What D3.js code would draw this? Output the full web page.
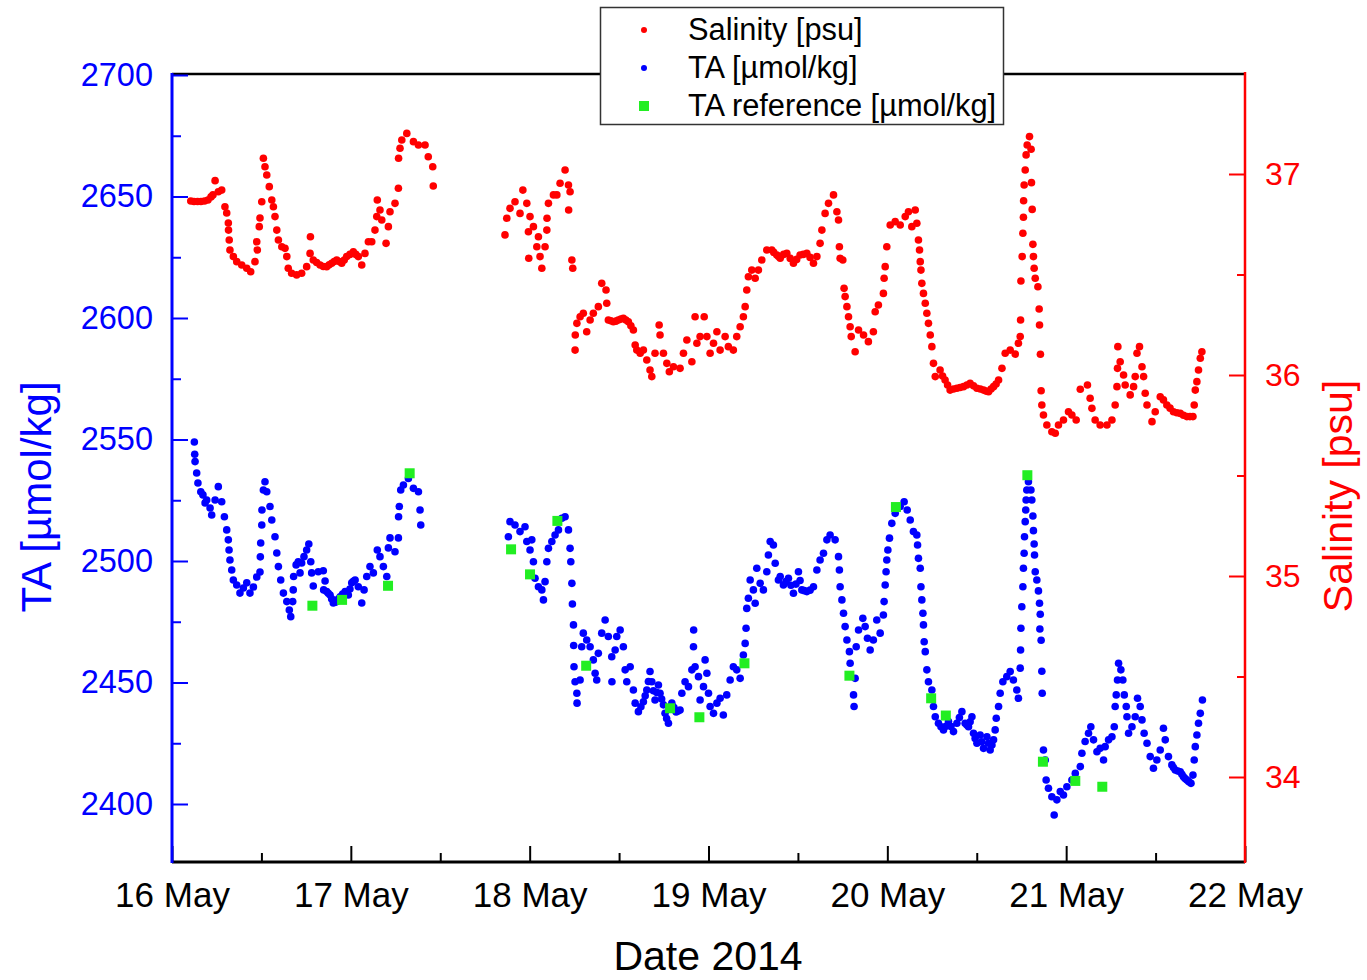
<!DOCTYPE html>
<html>
<head>
<meta charset="utf-8">
<script src="https://cdn.jsdelivr.net/npm/d3@7/dist/d3.min.js"></script>
<style>
  body { margin: 0; background: #fff; }
  svg { display: block; font-family: "Liberation Sans", Arial, sans-serif; }
</style>
</head>
<body>
<div id="chart"></div>
<script>
// [day of May 2014, TA µmol/kg]
var taData = [
  [16.125,2549.0],[16.127,2543.9],[16.129,2540.9],[16.138,2536.2],[16.145,2532.1],[16.161,2528.5],[16.173,2527.2],
  [16.185,2523.9],[16.194,2525.1],[16.213,2521.8],[16.222,2518.9],[16.241,2525.1],[16.259,2530.6],[16.278,2524.4],
  [16.293,2518.2],[16.306,2512.8],[16.315,2508.7],[16.319,2504.5],[16.324,2500.4],[16.334,2496.3],[16.343,2492.2],
  [16.362,2490.1],[16.380,2486.8],[16.399,2488.9],[16.418,2491.0],[16.436,2486.8],[16.455,2489.3],[16.474,2493.4],
  [16.492,2495.5],[16.494,2501.7],[16.496,2507.4],[16.502,2514.8],[16.503,2521.0],[16.511,2529.2],[16.520,2532.6],
  [16.530,2528.5],[16.548,2522.4],[16.558,2516.9],[16.576,2510.0],[16.586,2503.3],[16.595,2497.7],[16.608,2492.2],
  [16.623,2486.8],[16.642,2483.3],[16.656,2479.8],[16.664,2477.1],[16.675,2483.3],[16.678,2488.1],[16.680,2493.6],
  [16.694,2498.4],[16.706,2499.7],[16.716,2495.1],[16.725,2499.2],[16.738,2501.8],[16.753,2504.5],[16.765,2507.0],
  [16.776,2499.7],[16.781,2495.1],[16.790,2489.7],[16.818,2495.6],[16.846,2496.0],[16.848,2488.1],[16.865,2487.4],
  [16.884,2486.0],[16.902,2482.7],[16.921,2483.3],[16.940,2485.3],[16.968,2487.4],[16.986,2486.0],[17.005,2491.0],
  [17.024,2492.2],[17.042,2489.4],[17.061,2482.7],[17.074,2488.1],[17.089,2493.6],[17.107,2497.7],[17.126,2495.1],
  [17.148,2504.5],[17.163,2501.8],[17.182,2497.7],[17.201,2493.6],[17.210,2505.4],[17.219,2509.5],[17.247,2503.8],
  [17.266,2509.5],[17.267,2518.2],[17.271,2522.4],[17.279,2529.2],[17.294,2531.3],[17.322,2534.0],[17.350,2529.9],
  [17.378,2528.5],[17.387,2521.0],[17.391,2514.8],
  [16.856,2491.8],[16.874,2486.7],[16.893,2484.4],[16.912,2483.0],[16.930,2484.3],[16.954,2486.4],[16.977,2486.7],
  [16.995,2488.5],[17.014,2491.6],
  [17.881,2510.0],[17.890,2516.2],[17.918,2514.8],[17.946,2512.1],[17.974,2514.1],[17.984,2508.0],[18.002,2504.5],
  [18.012,2508.7],[18.021,2499.7],[18.030,2492.9],[18.049,2489.4],[18.068,2488.1],[18.077,2484.0],[18.086,2491.5],
  [18.096,2499.7],[18.105,2505.2],[18.124,2508.0],[18.142,2510.7],[18.161,2512.8],[18.180,2517.6],[18.198,2518.2],
  [18.217,2512.8],[18.226,2505.2],[18.230,2499.7],[18.236,2490.8],[18.239,2482.3],[18.245,2473.7],[18.246,2465.2],
  [18.248,2456.5],[18.254,2450.3],[18.264,2445.6],[18.265,2441.5],[18.282,2451.0],[18.291,2464.7],[18.300,2470.3],
  [18.319,2467.5],[18.338,2464.7],[18.356,2459.3],[18.366,2453.8],[18.375,2451.0],[18.384,2462.0],[18.403,2470.3],
  [18.422,2475.7],[18.440,2468.9],[18.459,2460.6],[18.460,2450.3],[18.478,2463.4],[18.487,2468.9],[18.506,2471.6],
  [18.524,2464.7],[18.534,2455.2],[18.543,2450.3],[18.562,2456.5],[18.580,2446.9],[18.590,2441.5],[18.608,2438.0],
  [18.636,2442.1],[18.655,2446.9],[18.673,2454.5],[18.683,2450.3],[18.701,2442.8],[18.720,2449.0],[18.729,2445.6],
  [18.748,2440.8],[18.757,2437.3],[18.776,2433.2],[18.795,2441.5],[18.819,2437.9],[18.841,2438.7],[18.851,2445.6],
  [18.622,2440.0],[18.646,2444.5],[18.664,2450.4],[18.692,2446.6],[18.711,2445.9],[18.738,2443.2],[18.766,2435.2],
  [18.807,2439.7],[18.830,2438.3],
  [18.869,2450.3],[18.888,2448.3],[18.907,2455.2],[18.916,2464.7],[18.917,2471.6],[18.925,2456.5],[18.944,2452.4],
  [18.953,2442.8],[18.972,2448.3],[18.981,2459.3],[18.991,2453.8],[19.000,2445.6],[19.009,2440.1],[19.028,2437.3],
  [19.047,2441.5],[19.065,2443.5],[19.083,2436.6],[19.102,2444.9],[19.121,2451.0],[19.139,2456.5],[19.158,2455.2],
  [19.177,2451.7],[19.195,2461.3],[19.205,2466.1],[19.210,2472.3],[19.214,2480.5],[19.223,2484.7],[19.233,2492.2],
  [19.251,2488.1],[19.261,2482.6],[19.270,2497.0],[19.289,2490.8],[19.307,2488.1],[19.326,2495.6],[19.335,2502.5],
  [19.345,2508.0],[19.363,2506.6],[19.373,2499.1],[19.391,2492.2],[19.401,2493.6],[19.419,2490.1],[19.447,2492.9],
  [19.475,2486.7],[19.503,2495.6],[19.522,2488.1],[19.550,2487.4],[19.587,2489.4],[19.606,2496.3],[19.624,2500.4],
  [19.433,2491.5],[19.461,2490.0],[19.489,2490.5],[19.512,2492.0],[19.536,2487.8],[19.568,2488.0],
  [19.643,2503.2],[19.662,2508.7],[19.680,2510.7],[19.708,2508.7],[19.727,2501.8],[19.732,2496.3],[19.736,2489.4],
  [19.746,2484.0],[19.755,2478.5],[19.764,2473.0],[19.774,2467.5],[19.788,2462.7],[19.792,2457.9],[19.811,2444.9],
  [19.814,2440.1],[19.820,2451.7],[19.826,2464.7],[19.839,2471.6],[19.863,2476.4],[19.876,2473.0],[19.889,2468.2],
  [19.904,2463.4],[19.922,2467.5],[19.941,2475.7],[19.960,2470.3],[19.978,2477.8],[19.982,2483.3],[19.988,2490.1],
  [19.993,2495.6],[19.997,2500.4],[20.003,2504.5],[20.012,2509.4],[20.025,2515.5],[20.044,2519.6],[20.072,2522.4],
  [20.094,2524.4],[20.111,2521.0],[20.128,2516.9],[20.146,2512.1],[20.165,2510.7],[20.169,2506.6],[20.174,2501.1],
  [20.184,2497.0],[20.188,2489.4],[20.193,2484.0],[20.199,2478.5],[20.202,2473.7],[20.206,2466.8],[20.212,2462.7],
  [20.221,2455.2],[20.230,2450.3],[20.249,2446.9],[20.258,2440.1],[20.268,2435.9],[20.286,2433.2],[20.314,2430.5],
  [20.342,2433.9],[20.370,2429.8],[20.389,2433.2],[20.417,2438.0],[20.435,2433.2],[20.454,2431.8],[20.473,2435.9],
  [20.482,2429.1],[20.501,2425.0],[20.519,2428.4],[20.538,2422.9],[20.557,2427.7],[20.575,2422.2],[20.594,2426.4],
  [20.300,2431.8],[20.328,2432.0],[20.356,2431.9],[20.403,2435.6],[20.445,2432.5],[20.463,2433.8],[20.491,2427.0],
  [20.528,2425.6],[20.566,2425.0],[20.585,2424.3],
  [20.603,2430.5],[20.609,2435.3],[20.622,2440.1],[20.631,2445.6],[20.646,2450.3],[20.668,2452.4],[20.687,2454.5],
  [20.705,2451.0],[20.724,2446.9],[20.733,2443.5],[20.743,2455.9],[20.745,2463.4],[20.747,2472.3],[20.752,2481.2],
  [20.758,2489.4],[20.761,2497.0],[20.765,2503.2],[20.767,2510.0],[20.771,2516.2],[20.774,2521.0],[20.776,2525.1],
  [20.780,2529.2],[20.789,2532.6],[20.803,2529.2],[20.808,2525.1],[20.814,2518.5],[20.817,2512.5],[20.821,2507.0],
  [20.823,2502.5],[20.827,2495.6],[20.836,2492.2],[20.845,2487.7],[20.851,2482.6],[20.855,2478.1],[20.853,2472.0],
  [20.860,2467.4],[20.864,2454.6],[20.866,2445.6],
  [20.873,2422.2],[20.883,2418.1],[20.888,2409.9],[20.901,2406.5],[20.920,2403.0],[20.933,2395.5],[20.948,2401.7],
  [20.967,2405.1],[20.985,2403.7],[21.004,2407.1],[21.032,2409.9],[21.051,2412.6],[21.079,2415.4],[21.088,2420.9],
  [21.106,2425.7],[21.125,2429.1],[21.138,2431.8],[21.153,2426.4],[21.172,2421.5],[21.190,2422.9],[21.209,2418.1],
  [21.218,2423.6],[21.237,2426.4],[21.256,2427.7],[21.269,2431.8],[21.274,2440.1],[21.280,2444.9],[21.287,2451.0],
  [21.293,2457.9],[21.306,2455.2],[21.317,2451.0],[21.325,2444.9],[21.336,2440.1],[21.340,2435.9],[21.349,2429.1],
  [21.368,2431.8],[21.386,2435.9],[21.399,2443.5],[21.414,2440.1],[21.424,2434.6],[21.436,2429.1],[21.452,2425.0],
  [21.470,2419.5],[21.488,2414.7],[21.507,2418.1],[21.526,2422.2],[21.544,2431.2],[21.554,2426.4],[21.572,2419.5],
  [21.591,2416.1],[21.610,2414.0],[21.638,2413.3],[21.656,2411.2],[21.675,2409.9],[21.698,2408.5],[21.709,2411.9],
  [21.600,2415.0],[21.624,2413.6],[21.647,2412.2],[21.665,2410.5],[21.686,2409.2],
  [21.716,2418.1],[21.722,2423.6],[21.731,2428.4],[21.740,2433.2],[21.750,2437.3],[21.762,2442.8]
];

// [day of May 2014, salinity psu]
var salData = [
  [16.105,36.866],[16.123,36.863],[16.143,36.863],[16.162,36.863],[16.182,36.866],[16.201,36.871],[16.218,36.886],
  [16.229,36.896],[16.241,36.967],[16.259,36.912],[16.278,36.920],[16.296,36.837],[16.306,36.806],[16.315,36.756],
  [16.316,36.721],[16.320,36.672],[16.324,36.622],[16.343,36.589],[16.362,36.564],[16.390,36.547],[16.418,36.531],
  [16.440,36.514],[16.464,36.564],[16.477,36.622],[16.474,36.663],[16.488,36.738],[16.492,36.781],[16.502,36.862],
  [16.511,37.078],[16.520,37.036],[16.530,36.995],[16.544,36.937],[16.558,36.871],[16.567,36.837],[16.576,36.788],
  [16.586,36.721],[16.595,36.672],[16.614,36.638],[16.632,36.630],[16.642,36.589],[16.650,36.531],[16.669,36.506],
  [16.697,36.498],[16.725,36.506],[16.753,36.539],[16.772,36.605],[16.774,36.688],[16.790,36.572],[16.828,36.547],
  [16.865,36.539],[16.893,36.556],[16.921,36.572],[16.949,36.556],[16.977,36.589],[17.014,36.613],[17.042,36.589],
  [16.809,36.560],[16.846,36.540],[16.879,36.548],[16.907,36.565],[16.935,36.565],[16.963,36.572],[16.995,36.600],
  [17.028,36.600],
  [17.061,36.547],[17.079,36.605],[17.098,36.663],[17.117,36.663],[17.135,36.721],[17.145,36.788],[17.148,36.871],
  [17.163,36.821],[17.173,36.771],[17.197,36.655],[17.210,36.738],[17.219,36.812],[17.247,36.854],[17.266,36.929],
  [17.267,37.078],[17.275,37.128],[17.285,37.169],[17.313,37.202],[17.350,37.161],[17.378,37.144],[17.415,37.144],
  [17.433,37.086],[17.458,37.036],[17.461,36.940],
  [17.862,36.697],[17.872,36.780],[17.890,36.829],[17.918,36.862],[17.946,36.804],[17.962,36.920],[17.984,36.854],
  [18.002,36.788],[17.993,36.713],[18.021,36.738],[18.049,36.688],[18.040,36.638],[17.995,36.581],[18.058,36.589],
  [18.068,36.531],[18.086,36.638],[18.096,36.721],[18.097,36.780],[18.105,36.854],[18.133,36.896],[18.152,36.896],
  [18.170,36.954],[18.198,37.020],[18.217,36.945],[18.226,36.912],[18.218,36.821],[18.236,36.572],[18.241,36.531],
  [18.254,36.124],[18.255,36.199],[18.264,36.257],[18.282,36.290],[18.300,36.307],[18.319,36.215],[18.338,36.274],
  [18.356,36.307],[18.384,36.340],[18.403,36.456],[18.427,36.423],[18.431,36.357],[18.440,36.274],[18.468,36.265],
  [18.496,36.274],[18.524,36.282],[18.552,36.265],[18.580,36.224],[18.590,36.149],[18.599,36.124],[18.618,36.108],
  [18.454,36.270],[18.482,36.268],[18.510,36.278],[18.538,36.274],[18.566,36.245],
  [18.636,36.124],[18.655,36.075],[18.673,36.025],[18.683,35.992],[18.701,36.108],[18.724,36.249],[18.729,36.199],
  [18.748,36.108],[18.767,36.058],[18.781,36.016],[18.804,36.041],[18.841,36.033],[18.860,36.108],[18.879,36.174],
  [18.907,36.066],[18.925,36.290],[18.935,36.158],[18.953,36.191],[18.976,36.290],[18.991,36.191],[19.009,36.108],
  [19.028,36.158],[19.047,36.215],[19.065,36.124],[19.093,36.191],[19.111,36.141],[19.139,36.124],[19.158,36.191],
  [19.177,36.240],[19.195,36.290],[19.205,36.340],[19.214,36.423],[19.223,36.489],[19.242,36.522],[19.261,36.481],
  [19.279,36.522],[19.298,36.572],[19.326,36.622],[19.354,36.622],[19.382,36.597],[19.401,36.581],[19.438,36.605],
  [19.475,36.556],[19.512,36.597],[19.550,36.605],[19.587,36.556],[19.606,36.589],[19.624,36.655],[19.634,36.721],
  [19.365,36.610],[19.392,36.590],[19.420,36.600],[19.457,36.580],[19.493,36.575],[19.530,36.600],[19.568,36.585],
  [19.652,36.804],[19.671,36.854],[19.699,36.896],[19.718,36.812],[19.727,36.771],[19.732,36.638],[19.736,36.581],
  [19.751,36.572],[19.758,36.431],[19.764,36.390],[19.774,36.340],[19.783,36.290],[19.792,36.240],[19.798,36.191],
  [19.820,36.116],[19.839,36.224],[19.867,36.199],[19.894,36.166],[19.922,36.215],[19.932,36.315],[19.950,36.348],
  [19.978,36.406],[19.982,36.481],[19.988,36.539],[19.997,36.638],[20.016,36.746],[20.044,36.763],[20.072,36.746],
  [20.100,36.788],[20.118,36.812],[20.137,36.738],[20.156,36.821],[20.165,36.755],[20.174,36.672],[20.180,36.622],
  [20.184,36.564],[20.188,36.522],[20.193,36.456],[20.202,36.406],[20.212,36.357],[20.221,36.307],[20.230,36.257],
  [20.240,36.199],[20.249,36.141],[20.258,36.058],[20.268,35.992],[20.295,36.025],[20.323,35.975],[20.351,35.925],
  [20.389,35.934],[20.426,35.942],[20.463,35.959],[20.501,35.934],[20.538,35.925],[20.566,35.917],[20.594,35.942],
  [20.309,35.995],[20.337,35.950],[20.370,35.930],[20.407,35.938],[20.445,35.950],[20.482,35.946],[20.520,35.930],
  [20.552,35.920],[20.580,35.930],[20.608,35.955],
  [20.622,35.975],[20.641,36.033],[20.659,36.108],[20.687,36.124],[20.715,36.104],[20.733,36.158],[20.743,36.191],
  [20.745,36.274],[20.747,36.468],[20.754,36.589],[20.758,36.705],[20.761,36.785],[20.762,36.867],[20.765,36.945],
  [20.771,37.020],[20.776,37.095],[20.782,37.144],[20.795,37.186],[20.804,37.123],[20.806,36.957],[20.810,36.824],
  [20.814,36.650],[20.817,36.589],[20.821,36.531],[20.827,36.481],[20.842,36.439],[20.849,36.328],[20.851,36.249],
  [20.856,36.103],[20.860,35.922],[20.864,35.851],[20.873,35.801],[20.892,35.751],[20.920,35.718],[20.939,35.710],
  [20.957,35.751],[20.985,35.776],[21.013,35.817],[21.032,35.801],[21.056,35.776],[21.079,35.929],[21.119,35.950],
  [21.134,35.884],[21.144,35.834],[21.162,35.776],[21.190,35.751],[21.228,35.751],[21.256,35.776],[21.274,35.851],
  [21.284,35.942],[21.287,36.033],[21.289,36.141],[21.302,36.066],[21.321,36.000],[21.330,35.950],[21.358,35.901],
  [21.377,35.942],[21.386,35.992],[21.396,36.108],[21.410,36.141],[21.424,36.041],[21.433,35.992],[21.442,35.909],
  [21.452,35.851],[21.480,35.768],[21.498,35.817],[21.526,35.892],[21.544,35.876],[21.563,35.851],[21.600,35.817],
  [21.581,35.835],[21.619,35.812],[21.656,35.800],[21.692,35.793],
  [21.638,35.809],[21.675,35.793],[21.709,35.793],[21.716,35.851],[21.722,35.925],[21.731,35.967],[21.740,36.025],
  [21.750,36.083],[21.759,36.116]
];

// [day of May 2014, TA reference µmol/kg]
var refData = [
  [16.785,2481.6],[16.951,2484.0],[17.208,2489.8],[17.329,2536.1],[17.896,2504.8],[18.002,2494.5],[18.155,2516.5],
  [18.316,2456.9],[18.785,2439.4],[18.949,2435.7],[19.201,2457.9],[19.788,2452.8],[20.048,2522.2],[20.245,2443.5],
  [20.327,2436.4],[20.783,2535.3],[20.870,2417.4],[21.051,2409.5],[21.202,2407.1]
];

var dayTicks = [16, 17, 18, 19, 20, 21, 22];
var taTicks = [2400, 2450, 2500, 2550, 2600, 2650, 2700];
var salTicks = [34, 35, 36, 37];

var legendItems = [
  {label: "Salinity [psu]", color: "#ff0000", shape: "dot"},
  {label: "TA [\u00b5mol/kg]", color: "#0000ff", shape: "dot"},
  {label: "TA reference [\u00b5mol/kg]", color: "#22ee22", shape: "square"}
];

var W = 1367, H = 980;
var plotL = 172, plotR = 1245, plotT = 74, plotB = 862;

var svg = d3.select("#chart").append("svg")
    .attr("width", W)
    .attr("height", H);

var x = d3.scaleLinear().domain([16, 22]).range([plotL, plotR]);
var yTA = d3.scaleLinear().domain([2400, 2700]).range([804, 75]);
var ySal = d3.scaleLinear().domain([34, 37]).range([777, 174]);

// frame top
svg.append("line")
    .attr("x1", plotL).attr("x2", plotR)
    .attr("y1", plotT).attr("y2", plotT)
    .attr("stroke", "#000").attr("stroke-width", 2.5);

// bottom axis
var xMajor = svg.append("g")
    .attr("transform", "translate(0," + plotB + ")")
    .call(d3.axisBottom(x).tickValues(dayTicks).tickSize(-16).tickPadding(20)
        .tickFormat(function(d) { return d + " May"; }));
xMajor.select(".domain").remove();
xMajor.selectAll("line").attr("stroke", "#000").attr("stroke-width", 2);
xMajor.selectAll("text")
    .attr("font-family", "Liberation Sans, Arial, sans-serif")
    .attr("font-size", 35)
    .attr("fill", "#000");

var xMinor = svg.append("g")
    .attr("transform", "translate(0," + plotB + ")")
    .call(d3.axisBottom(x).tickValues(dayTicks.slice(0, -1).map(function(d) { return d + 0.5; }))
        .tickSize(-9).tickFormat(""));
xMinor.select(".domain").remove();
xMinor.selectAll("line").attr("stroke", "#000").attr("stroke-width", 2);

svg.append("line")
    .attr("x1", plotL).attr("x2", plotR)
    .attr("y1", plotB).attr("y2", plotB)
    .attr("stroke", "#000").attr("stroke-width", 3);

// left axis (TA)
var taMinor = [];
for (var i = 0; i < taTicks.length - 1; i++) taMinor.push(taTicks[i] + 25);

var yl = svg.append("g")
    .attr("transform", "translate(" + plotL + ",0)")
    .call(d3.axisLeft(yTA).tickValues(taTicks).tickSize(-16).tickPadding(19).tickFormat(d3.format("d")));
yl.select(".domain").remove();
yl.selectAll("line").attr("stroke", "#0000ff").attr("stroke-width", 2);
yl.selectAll("text")
    .attr("font-family", "Liberation Sans, Arial, sans-serif")
    .attr("font-size", 32.5)
    .attr("fill", "#0000ff");

var ylm = svg.append("g")
    .attr("transform", "translate(" + plotL + ",0)")
    .call(d3.axisLeft(yTA).tickValues(taMinor).tickSize(-9).tickFormat(""));
ylm.select(".domain").remove();
ylm.selectAll("line").attr("stroke", "#0000ff").attr("stroke-width", 2);

svg.append("line")
    .attr("x1", plotL).attr("x2", plotL)
    .attr("y1", plotT - 1).attr("y2", plotB + 1)
    .attr("stroke", "#0000ff").attr("stroke-width", 3);

// right axis (salinity)
var salMinor = [33.5, 34.5, 35.5, 36.5, 37.5].filter(function(d) { return ySal(d) > plotT + 2 && ySal(d) < plotB; });

var yr = svg.append("g")
    .attr("transform", "translate(" + plotR + ",0)")
    .call(d3.axisRight(ySal).tickValues(salTicks).tickSize(-16).tickPadding(20).tickFormat(d3.format("d")));
yr.select(".domain").remove();
yr.selectAll("line").attr("stroke", "#ff0000").attr("stroke-width", 2);
yr.selectAll("text")
    .attr("font-family", "Liberation Sans, Arial, sans-serif")
    .attr("font-size", 32)
    .attr("fill", "#ff0000");

var yrm = svg.append("g")
    .attr("transform", "translate(" + plotR + ",0)")
    .call(d3.axisRight(ySal).tickValues(salMinor).tickSize(-8).tickFormat(""));
yrm.select(".domain").remove();
yrm.selectAll("line").attr("stroke", "#ff0000").attr("stroke-width", 2);

svg.append("line")
    .attr("x1", plotR).attr("x2", plotR)
    .attr("y1", plotT - 2).attr("y2", plotB + 1)
    .attr("stroke", "#ff0000").attr("stroke-width", 2.5);

// axis titles
svg.append("text")
    .attr("transform", "translate(51,497) rotate(-90)")
    .attr("text-anchor", "middle")
    .attr("font-size", 42)
    .attr("fill", "#0000ff")
    .text("TA [\u00b5mol/kg]");

svg.append("text")
    .attr("transform", "translate(1352,496) rotate(-90)")
    .attr("text-anchor", "middle")
    .attr("font-size", 41)
    .attr("fill", "#ff0000")
    .text("Salinity [psu]");

svg.append("text")
    .attr("x", 708).attr("y", 970)
    .attr("text-anchor", "middle")
    .attr("font-size", 41)
    .attr("fill", "#000")
    .text("Date 2014");

// data
svg.append("g").selectAll("circle.sal")
    .data(salData).enter().append("circle")
    .attr("class", "sal")
    .attr("cx", function(d) { return x(d[0]); })
    .attr("cy", function(d) { return ySal(d[1]); })
    .attr("r", 3.8)
    .attr("fill", "#ff0000");

svg.append("g").selectAll("circle.ta")
    .data(taData).enter().append("circle")
    .attr("class", "ta")
    .attr("cx", function(d) { return x(d[0]); })
    .attr("cy", function(d) { return yTA(d[1]); })
    .attr("r", 3.8)
    .attr("fill", "#0000ff");

svg.append("g").selectAll("rect.ref")
    .data(refData).enter().append("rect")
    .attr("class", "ref")
    .attr("x", function(d) { return x(d[0]) - 5; })
    .attr("y", function(d) { return yTA(d[1]) - 5; })
    .attr("width", 10)
    .attr("height", 10)
    .attr("fill", "#22ee22");

// legend
var lg = svg.append("g");
lg.append("rect")
    .attr("x", 600.5).attr("y", 7.5)
    .attr("width", 403).attr("height", 117)
    .attr("fill", "#fff")
    .attr("stroke", "#333").attr("stroke-width", 1.5);

var entry = lg.selectAll("g.entry")
    .data(legendItems).enter().append("g")
    .attr("class", "entry")
    .attr("transform", function(d, i) { return "translate(0," + (30 + i * 38) + ")"; });

entry.filter(function(d) { return d.shape == "dot"; }).append("circle")
    .attr("cx", 644).attr("cy", 0).attr("r", 3)
    .attr("fill", function(d) { return d.color; });

entry.filter(function(d) { return d.shape == "square"; }).append("rect")
    .attr("x", 639).attr("y", -5).attr("width", 10).attr("height", 10)
    .attr("fill", function(d) { return d.color; });

entry.append("text")
    .attr("x", 688).attr("y", 10)
    .attr("font-size", 30.8)
    .attr("fill", "#000")
    .text(function(d) { return d.label; });
</script>
</body>
</html>
